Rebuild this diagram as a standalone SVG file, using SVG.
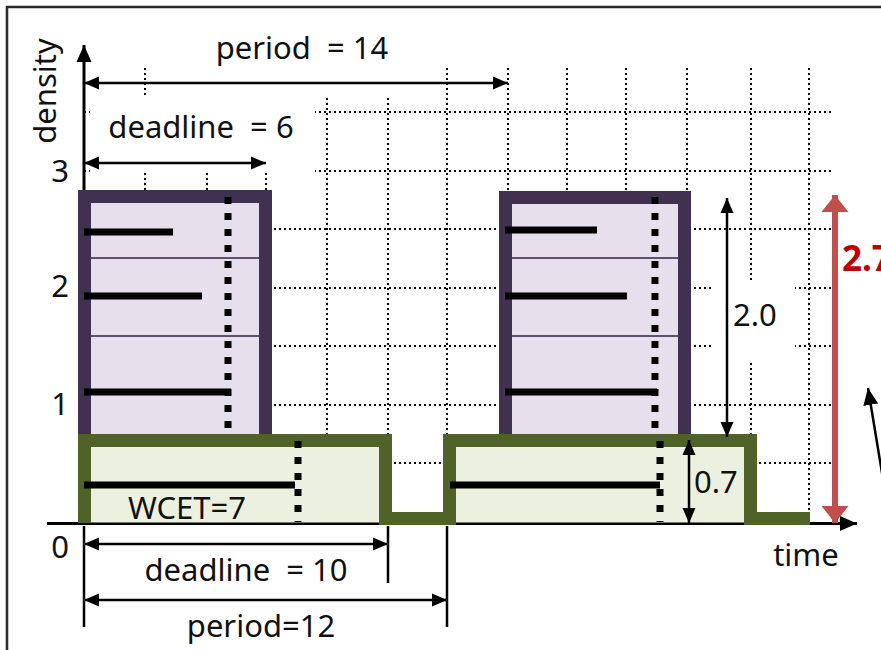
<svg xmlns="http://www.w3.org/2000/svg" width="881" height="650" viewBox="0 0 881 650">
<style>
text{font-family:"Noto Sans","Liberation Sans",sans-serif;font-size:31px;fill:#111}
.grid{stroke:#000;stroke-width:2;stroke-dasharray:2 3;fill:none}
.dim{stroke:#000;stroke-width:2.5;fill:none}
.bar{stroke:#000;stroke-width:7;fill:none}
.dots{stroke:#000;stroke-width:7;stroke-dasharray:7 9;fill:none}
.pfill{fill:#E5E0EC}
.pstroke{stroke:#403151;stroke-width:13;fill:none;stroke-linejoin:miter}
.div{stroke:#5F5071;stroke-width:2}
.gfill{fill:#EBF1DE}
.gstroke{stroke:#4F6228;stroke-width:13;fill:none;stroke-linejoin:miter}
</style>
<defs>
<marker id="ah" markerUnits="userSpaceOnUse" markerWidth="16" markerHeight="14" refX="15" refY="7" orient="auto-start-reverse"><path d="M0,0.5 L15,7 L0,13.5 z" fill="#000"/></marker>
<marker id="ahbig" markerUnits="userSpaceOnUse" markerWidth="18" markerHeight="16" refX="17" refY="8" orient="auto"><path d="M0,0.5 L17,8 L0,15.5 z" fill="#000"/></marker>
<marker id="ahred" markerUnits="userSpaceOnUse" markerWidth="18" markerHeight="27" refX="17" refY="13.5" orient="auto-start-reverse"><path d="M0,0 L17,13.5 L0,27 z" fill="#C0504D"/></marker>
<mask id="gm" maskUnits="userSpaceOnUse" x="0" y="0" width="881" height="650">
<rect x="0" y="0" width="881" height="650" fill="#fff"/>
<rect x="150" y="0" width="290" height="95" fill="#000"/>
<rect x="90" y="95" width="225" height="77.5" fill="#000"/>
<rect x="712" y="283" width="83" height="79" fill="#000"/>
</mask>
</defs>
<rect x="0" y="0" width="881" height="650" fill="#fff"/>
<rect x="7" y="7" width="900" height="700" fill="none" stroke="#2a2a2a" stroke-width="2.5"/>

<g id="grid" mask="url(#gm)">
<path class="grid" d="M145,68V522 M207,68V522 M266,68V522 M327,68V522 M388,68V522 M447,68V522 M508,68V522 M567,68V522 M626,68V522 M687,68V522 M751,68V522 M809,68V522"/>
<path class="grid" d="M84,112H833 M84,171H833 M84,229H833 M84,288H833 M84,346H833 M84,405H833 M84,463H833"/>
</g>

<g id="axes">
<line class="dim" x1="84" y1="523" x2="84" y2="45" style="stroke-width:3" marker-end="url(#ahbig)"/>
<line class="dim" x1="47" y1="523.5" x2="857" y2="523.5" style="stroke-width:3" marker-end="url(#ahbig)"/>
<text x="60" y="182" text-anchor="middle">3</text>
<text x="60" y="297" text-anchor="middle">2</text>
<text x="60" y="415" text-anchor="middle">1</text>
<text x="60" y="558" text-anchor="middle">0</text>
<text x="56" y="91" text-anchor="middle" transform="rotate(-90 56 91)">density</text>
<text x="806" y="566" text-anchor="middle">time</text>
</g>

<g id="task-hi-1">
<rect class="pfill" x="84.5" y="196.5" width="181" height="240"/>
<line class="div" x1="91" y1="258" x2="259" y2="258"/>
<line class="div" x1="91" y1="336" x2="259" y2="336"/>
<path class="pstroke" d="M84.5,436 V196.5 H265.5 V436"/>
<line class="bar" x1="84" y1="232" x2="173" y2="232"/>
<line class="bar" x1="84" y1="296" x2="202" y2="296"/>
<line class="bar" x1="84" y1="392" x2="231" y2="392"/>
<line class="dots" x1="228" y1="197" x2="228" y2="437"/>
</g>

<g id="task-hi-2">
<rect class="pfill" x="505.5" y="197.5" width="179" height="239"/>
<line class="div" x1="512" y1="258" x2="678" y2="258"/>
<line class="div" x1="512" y1="336" x2="678" y2="336"/>
<path class="pstroke" d="M505.5,436 V197.5 H684.5 V436"/>
<line class="bar" x1="505" y1="230" x2="597" y2="230"/>
<line class="bar" x1="505" y1="296" x2="627" y2="296"/>
<line class="bar" x1="505" y1="392" x2="657" y2="392"/>
<line class="dots" x1="655" y1="197" x2="655" y2="437"/>
</g>

<g id="task-lo">
<rect class="gfill" x="84.5" y="440.5" width="301" height="82"/>
<rect class="gfill" x="449.5" y="440.5" width="301" height="82"/>
<path class="gstroke" d="M84.5,523 V440.5 H385.5 V518.5 H449.5 V440.5 H750.5 V518.5 H810"/>
<line class="bar" x1="84" y1="485" x2="295" y2="485"/>
<line class="bar" x1="450" y1="485" x2="660" y2="485"/>
<line class="dots" x1="298" y1="441" x2="298" y2="522"/>
<line class="dots" x1="660" y1="441" x2="660" y2="522"/>
<text x="187" y="519" text-anchor="middle">WCET=7</text>
</g>

<g id="connectors">
<line class="dim" x1="84" y1="83" x2="508" y2="83" marker-start="url(#ah)" marker-end="url(#ah)"/>
<line class="dim" x1="84" y1="163" x2="266" y2="163" marker-start="url(#ah)" marker-end="url(#ah)"/>
<line class="dim" x1="84" y1="526" x2="84" y2="627"/>
<line class="dim" x1="388" y1="526" x2="388" y2="583"/>
<line class="dim" x1="447" y1="526" x2="447" y2="627"/>
<line class="dim" x1="84" y1="544" x2="388" y2="544" marker-start="url(#ah)" marker-end="url(#ah)"/>
<line class="dim" x1="84" y1="600" x2="447" y2="600" marker-start="url(#ah)" marker-end="url(#ah)"/>
<line class="dim" x1="727" y1="198" x2="727" y2="437" marker-start="url(#ah)" marker-end="url(#ah)"/>
<line class="dim" x1="689" y1="440" x2="689" y2="523" marker-start="url(#ah)" marker-end="url(#ah)"/>
<line x1="835" y1="195" x2="835" y2="523" stroke="#C0504D" stroke-width="6" marker-start="url(#ahred)" marker-end="url(#ahred)"/>
<line class="dim" x1="884" y1="485" x2="868" y2="388" marker-end="url(#ahbig)"/>
</g>

<g id="labels">
<text x="302" y="59" text-anchor="middle" xml:space="preserve">period  = 14</text>
<text x="201" y="138" text-anchor="middle" xml:space="preserve">deadline  = 6</text>
<text x="246" y="581" text-anchor="middle" xml:space="preserve">deadline  = 10</text>
<text x="261" y="637" text-anchor="middle">period=12</text>
<text x="733" y="326">2.0</text>
<text x="694" y="493">0.7</text>
<text x="842" y="271" style="font-size:35px;font-weight:bold;fill:#C00000">2.7</text>
</g>
</svg>
